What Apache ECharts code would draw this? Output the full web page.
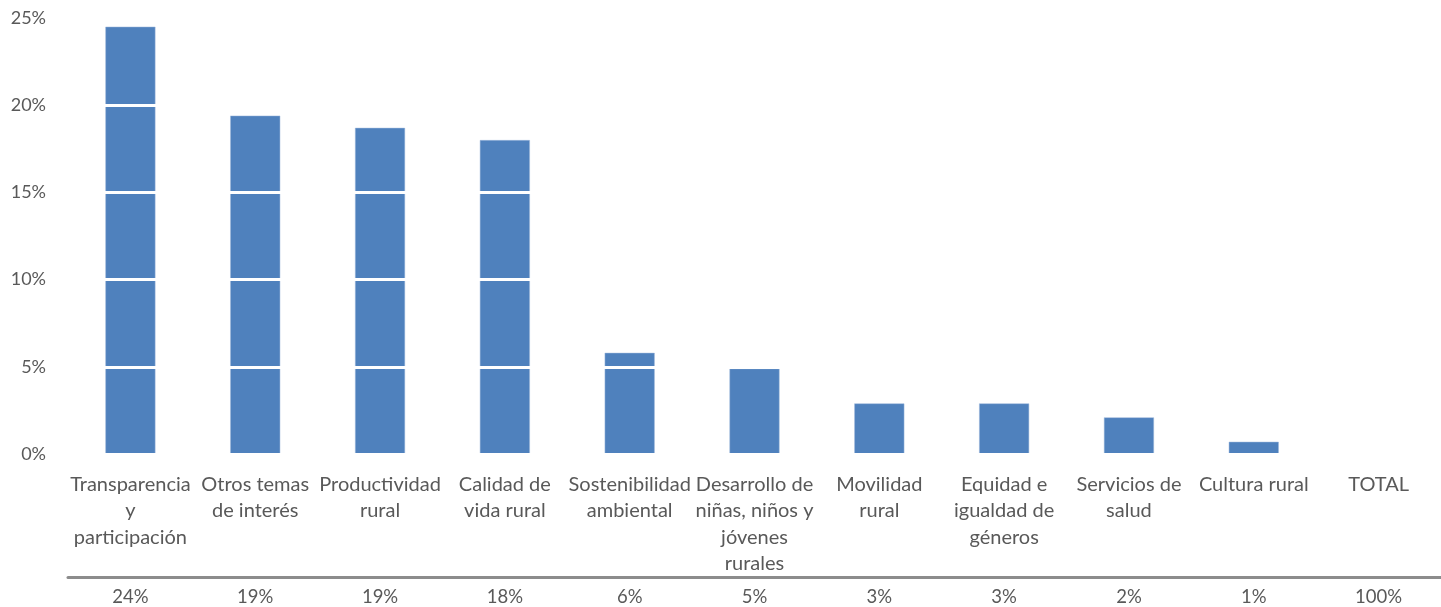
<!DOCTYPE html>
<html>
<head>
<meta charset="utf-8">
<script src="https://cdn.jsdelivr.net/npm/echarts@6/dist/echarts.min.js"></script>
<style>
html,body{margin:0;padding:0;background:#fff;}
#chart{width:1441px;height:607px;}
</style>
</head>
<body>
<div id="chart"></div>
<script>
const categories = [
  "Transparencia\ny\nparticipación",
  "Otros temas\nde interés",
  "Productividad\nrural",
  "Calidad de\nvida rural",
  "Sostenibilidad\nambiental",
  "Desarrollo de\nniñas, niños y\njóvenes\nrurales",
  "Movilidad\nrural",
  "Equidad e\nigualdad de\ngéneros",
  "Servicios de\nsalud",
  "Cultura rural",
  "TOTAL"
];
const values = [24.5, 19.4, 18.7, 18.0, 5.8, 4.9, 2.9, 2.9, 2.1, 0.7, null];
const tableLabels = ["24%", "19%", "19%", "18%", "6%", "5%", "3%", "3%", "2%", "1%", "100%"];
const yTicks = { min: 0, max: 25, interval: 5 };

const textColor = '#595959';
const font = 'Lato, "Open Sans", sans-serif';
const chart = echarts.init(document.getElementById('chart'));
chart.setOption({
  animation: false,
  grid: { left: 68, right: -4, top: 18, bottom: 152, containLabel: false },
  xAxis: [
    {
      type: 'category',
      data: categories,
      axisLine: { show: false },
      axisTick: { show: false },
      axisLabel: {
        interval: 0, margin: 17, color: textColor, fontSize: 20,
        fontFamily: font, lineHeight: 26.5
      }
    },
    {
      type: 'category',
      data: tableLabels,
      position: 'bottom',
      offset: 123,
      axisLine: { show: true, lineStyle: { color: '#8c8c8c', width: 3 } },
      axisTick: { show: false },
      axisLabel: {
        interval: 0, margin: 11, color: textColor, fontSize: 18.5,
        fontFamily: font
      }
    }
  ],
  yAxis: {
    type: 'value',
    min: yTicks.min, max: yTicks.max, interval: yTicks.interval,
    z: 5,
    axisLine: { show: false },
    axisTick: { show: false },
    splitLine: { show: true, lineStyle: { color: '#ffffff', width: 3 } },
    axisLabel: {
      formatter: v => v + '%', margin: 22, color: textColor, fontSize: 18,
      fontFamily: font
    }
  },
  series: [{
    type: 'bar',
    data: values,
    barWidth: 50,
    itemStyle: { color: '#4F81BD', borderColor: '#9fb9dc', borderWidth: 0.5 }
  }]
});
</script>
</body>
</html>
